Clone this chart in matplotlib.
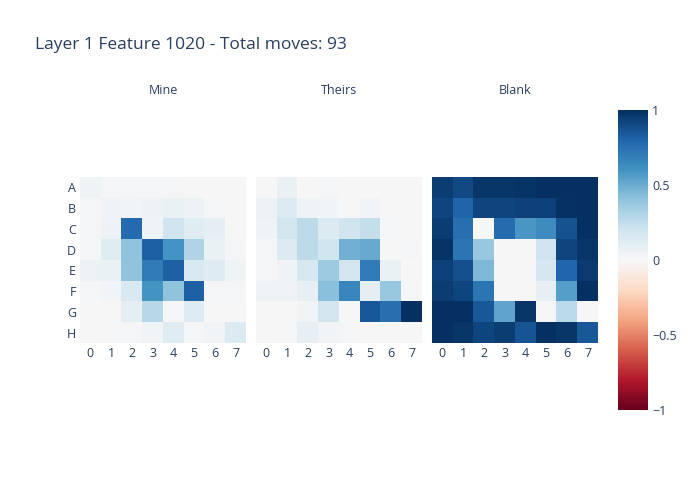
import matplotlib
matplotlib.use("Agg")
import matplotlib.pyplot as plt
import numpy as np

plt.rcParams['font.family'] = ['Open Sans', 'DejaVu Sans']

title = "Layer 1 Feature 1020 - Total moves: 93"
panel_titles = ["Mine", "Theirs", "Blank"]
row_labels = ["A", "B", "C", "D", "E", "F", "G", "H"]
col_labels = ["0", "1", "2", "3", "4", "5", "6", "7"]

mine = [
    [0.04, 0.01, 0.01, 0.01, 0.01, 0.00, 0.00, 0.00],
    [0.01, 0.04, 0.03, 0.05, 0.07, 0.05, 0.01, 0.00],
    [0.01, 0.05, 0.78, 0.04, 0.20, 0.12, 0.10, 0.00],
    [0.01, 0.12, 0.40, 0.82, 0.60, 0.30, 0.07, 0.02],
    [0.06, 0.07, 0.40, 0.70, 0.82, 0.15, 0.13, 0.04],
    [0.02, 0.03, 0.15, 0.60, 0.40, 0.82, 0.01, 0.01],
    [0.00, 0.00, 0.10, 0.28, 0.01, 0.13, 0.00, 0.00],
    [0.00, 0.01, 0.01, 0.03, 0.12, 0.02, 0.03, 0.14],
]
theirs = [
    [0.00, 0.07, 0.00, 0.02, 0.00, 0.00, 0.00, 0.00],
    [0.06, 0.14, 0.04, 0.03, 0.00, 0.03, 0.00, 0.00],
    [0.04, 0.18, 0.26, 0.14, 0.20, 0.24, 0.01, 0.00],
    [0.02, 0.14, 0.26, 0.20, 0.48, 0.50, 0.00, 0.01],
    [0.02, 0.04, 0.16, 0.36, 0.18, 0.70, 0.07, 0.00],
    [0.04, 0.04, 0.08, 0.42, 0.65, 0.10, 0.38, 0.01],
    [0.00, 0.00, 0.03, 0.18, 0.00, 0.85, 0.75, 1.00],
    [0.00, 0.02, 0.08, 0.03, 0.02, 0.00, 0.00, 0.00],
]
blank = [
    [0.95, 0.90, 0.97, 0.97, 0.98, 1.00, 1.00, 1.00],
    [0.92, 0.80, 0.92, 0.92, 0.93, 0.93, 0.99, 1.00],
    [0.95, 0.75, 0.00, 0.77, 0.58, 0.63, 0.87, 1.00],
    [0.98, 0.73, 0.38, 0.00, 0.00, 0.20, 0.92, 0.97],
    [0.93, 0.88, 0.45, 0.00, 0.00, 0.17, 0.79, 0.96],
    [0.95, 0.92, 0.73, 0.00, 0.00, 0.08, 0.55, 1.00],
    [1.00, 1.00, 0.85, 0.53, 0.97, 0.01, 0.27, 0.00],
    [1.00, 0.97, 0.92, 0.95, 0.86, 1.00, 0.97, 0.85],
]
cbar_ticks = [1, 0.5, 0, -0.5, -1]

TXT = "#2a3f5f"
W, H = 700, 500
fig = plt.figure(figsize=(7, 5), dpi=100)
fig.patch.set_facecolor("white")

def px_axes(x0, y0, x1, y1):
    return fig.add_axes([x0 / W, 1 - y1 / H, (x1 - x0) / W, (y1 - y0) / H])

lefts = [80, 256, 432]
size = 166
top = 177
im = None
for i, (data, name) in enumerate(zip([mine, theirs, blank], panel_titles)):
    ax = px_axes(lefts[i], top, lefts[i] + size, top + size)
    im = ax.imshow(np.array(data), cmap="RdBu", vmin=-1, vmax=1, aspect="auto",
                   interpolation="nearest")
    ax.set_xticks(range(8))
    ax.set_xticklabels(col_labels, fontsize=9, color=TXT)
    ax.set_yticks(range(8))
    if i == 0:
        ax.set_yticklabels(row_labels, fontsize=9, color=TXT)
    else:
        ax.set_yticklabels([])
    ax.tick_params(length=0, pad=3)
    for s in ax.spines.values():
        s.set_visible(False)
    fig.text((lefts[i] + size / 2) / W, 1 - 91 / H, name, ha="center", va="center",
             fontsize=9, color=TXT)

cax = px_axes(618, 110, 648, 410)
cb = fig.colorbar(im, cax=cax, ticks=cbar_ticks)
cb.outline.set_visible(False)
cb.ax.set_yticklabels(["1", "0.5", "0", "\u22120.5", "\u22121"])
cb.ax.tick_params(length=0, labelsize=9, labelcolor=TXT, pad=3)

fig.text(35 / W, 1 - 45 / H, title, ha="left", va="center", fontsize=12.5, color=TXT)

fig.savefig("out.png", dpi=100, facecolor="white")
